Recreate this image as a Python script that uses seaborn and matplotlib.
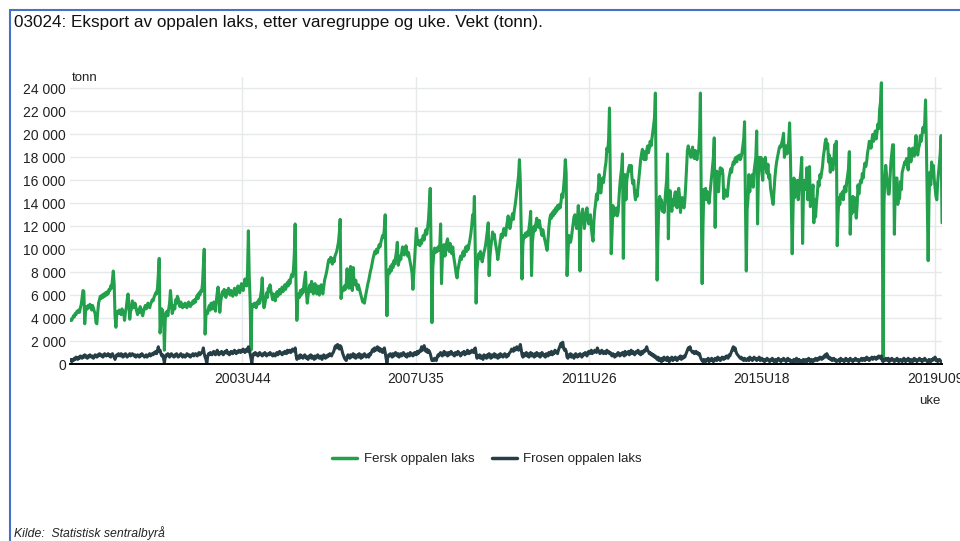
import matplotlib
matplotlib.use("Agg")
import matplotlib.pyplot as plt
from matplotlib.lines import Line2D
import seaborn as sns
import pandas as pd
import numpy as np

# ---------------- data (weekly export, fresh in 1000 t, frozen in 100 t) ----------------
years = [2000, 2001, 2002, 2003, 2004, 2005, 2006, 2007, 2008, 2009,
         2010, 2011, 2012, 2013, 2014, 2015, 2016, 2017, 2018, 2019]
weeks_per_year = [52, 52, 52, 52, 53, 52, 52, 52, 52, 53,
                  52, 52, 52, 52, 52, 53, 52, 52, 52, 17]

fresh_2000 = [3.8,3.9,3.8,4.0,4.2,4.1,4.4,4.3,4.6,4.5,4.7,4.5,4.9,5.2,5.8,6.4,6.3,3.5,4.6,5.0,4.8,5.1,4.9,5.2,5.0,4.7,5.1,4.9,4.6,4.4,3.6,3.5,4.5,5.3,5.6,5.9,5.7,6.0,5.8,6.1,5.9,6.2,6.0,6.3,6.1,6.5,6.4,6.8,6.6,7.4,8.1,7.0]
fresh_2001 = [4.2,3.2,4.3,4.6,4.4,4.7,4.5,4.3,4.8,4.6,4.4,3.8,4.5,4.9,5.6,6.1,5.2,3.9,4.6,4.8,5.5,5.2,4.9,5.3,5.0,4.6,4.3,4.7,4.5,5.0,4.8,4.4,4.2,4.6,4.9,5.1,4.8,5.0,5.3,5.1,4.9,5.2,5.4,5.6,5.5,5.8,6.0,6.2,6.1,6.6,7.8,9.2]
fresh_2002 = [2.7,3.6,4.8,4.6,4.3,1.2,3.9,4.4,4.6,4.2,4.8,5.3,6.4,5.5,4.4,4.7,5.1,4.8,5.6,5.3,5.9,5.7,5.2,5.0,5.4,5.1,4.9,5.2,5.0,5.3,5.1,4.9,5.2,5.4,5.1,5.0,5.3,5.2,5.5,5.3,5.6,5.4,5.8,6.0,5.7,6.2,6.0,6.4,6.3,7.0,8.6,10.0]
fresh_2003 = [2.6,4.2,4.6,4.4,4.9,5.1,4.7,5.3,5.0,4.8,5.4,5.2,4.6,5.5,6.2,6.7,5.8,4.5,5.4,5.9,6.3,6.0,6.5,6.2,5.8,6.4,6.1,6.6,6.3,6.0,6.4,6.2,5.9,6.3,6.6,6.2,6.0,6.4,6.8,6.5,6.2,6.6,7.0,6.7,6.4,6.9,7.4,7.1,6.8,8.0,11.6,7.6]
fresh_2004 = [5.6,1.2,4.8,5.2,5.0,5.3,5.1,4.9,5.4,5.2,5.6,5.3,5.9,6.4,7.5,5.6,4.9,5.2,5.7,6.2,5.8,6.6,6.3,6.9,6.4,6.0,5.6,6.1,5.8,5.5,6.0,6.3,5.9,6.2,6.5,6.1,6.4,6.7,6.3,6.6,6.9,6.5,6.8,7.1,6.8,7.3,7.0,7.5,7.8,7.6,8.2,9.5,12.2]
fresh_2005 = [7.0,3.8,5.6,6.1,5.8,6.4,6.0,6.5,6.2,6.8,7.4,8.0,6.2,5.3,6.0,6.5,6.9,6.3,7.2,6.7,6.1,6.6,7.0,6.5,6.1,6.8,6.4,6.0,6.6,6.9,6.4,6.1,6.7,7.3,7.6,7.9,8.3,8.8,9.1,8.9,9.3,9.0,8.7,9.2,8.9,9.4,9.6,9.8,10.2,10.6,11.4,12.6]
fresh_2006 = [5.7,6.3,6.6,6.4,6.8,6.5,7.0,8.3,6.9,6.6,7.4,8.5,6.8,6.4,8.4,7.2,6.9,7.3,6.8,6.5,6.9,6.6,6.3,6.0,5.7,5.4,5.6,5.3,5.8,6.2,6.6,7.0,7.3,7.7,8.1,8.4,8.8,9.2,9.5,9.8,9.6,10.0,9.7,10.1,10.4,10.2,10.6,10.9,11.2,11.0,11.8,13.0]
fresh_2007 = [8.0,4.2,7.6,8.2,7.9,8.5,8.1,8.7,8.4,9.0,8.7,9.3,9.8,10.6,8.6,8.9,9.4,9.1,9.7,10.2,9.9,9.5,9.9,10.3,9.8,9.4,9.7,9.2,8.8,8.4,7.9,6.5,7.8,9.2,10.4,11.8,10.9,10.4,10.7,10.3,10.8,10.5,10.9,11.2,10.8,11.4,11.7,11.3,11.9,12.6,13.9,15.3]
fresh_2008 = [10.0,3.6,8.4,9.5,10.1,9.7,10.0,9.8,10.2,9.9,10.3,12.2,7.0,9.2,9.8,10.4,9.4,9.9,10.6,10.9,10.3,9.8,10.5,10.1,9.6,10.2,9.4,8.9,8.4,7.8,7.5,8.2,8.6,9.0,9.4,9.1,9.5,9.8,9.4,9.9,10.2,9.8,10.3,10.0,10.5,10.9,11.4,12.1,13.0,12.4,14.6,10.2]
fresh_2009 = [5.3,8.2,9.0,9.6,9.2,9.8,9.4,8.9,9.3,9.7,10.0,10.4,11.0,11.6,12.3,7.7,9.4,10.2,10.8,11.5,11.0,11.3,10.7,10.2,9.8,9.1,9.6,10.2,10.8,11.3,11.0,11.4,11.8,11.5,11.2,11.9,12.4,12.9,12.3,11.8,12.2,12.7,13.1,12.6,13.3,13.8,14.4,15.1,15.7,16.4,17.8,16.0,12.0]
fresh_2010 = [7.4,10.4,11.2,11.0,11.4,11.1,11.5,11.2,11.8,12.4,13.3,7.7,10.6,11.4,12.0,11.6,12.2,12.7,12.3,11.9,12.5,12.0,11.6,11.2,11.7,11.3,10.9,10.6,10.2,9.9,10.8,11.9,12.6,13.0,12.7,13.2,12.9,13.4,13.1,13.6,13.3,13.8,13.5,13.9,13.6,14.1,14.8,14.5,15.4,16.3,17.8,16.6]
fresh_2011 = [7.7,9.4,11.2,10.8,10.6,11.0,11.6,12.2,12.8,13.0,12.4,11.8,12.6,13.8,12.2,8.1,12.4,13.1,13.5,12.6,11.8,12.5,13.2,13.6,12.8,12.2,12.7,13.0,11.9,11.2,10.7,12.4,13.4,14.0,14.8,14.3,15.2,16.5,15.4,14.9,15.6,16.2,15.8,16.4,17.1,17.6,18.8,18.5,19.6,22.3,16.0,9.6]
fresh_2012 = [11.5,13.8,12.9,13.5,13.0,13.6,12.9,13.2,14.5,15.6,16.4,17.0,18.3,9.2,15.4,16.5,14.3,16.0,16.5,17.0,17.3,16.8,17.3,16.2,15.7,16.0,14.9,14.3,15.1,14.6,15.5,16.2,17.0,17.8,18.3,18.7,18.1,17.8,18.5,17.8,18.6,19.0,18.4,18.8,19.4,19.0,19.6,20.2,20.8,21.5,23.6,14.0]
fresh_2013 = [7.3,11.0,14.0,14.6,13.6,14.3,13.3,14.0,13.2,14.1,15.2,16.0,18.3,10.9,14.6,15.1,14.0,13.3,14.3,13.8,14.6,15.0,14.4,13.6,14.9,15.3,14.5,13.2,14.1,14.5,14.0,13.6,14.2,15.5,17.1,18.6,19.0,18.4,18.5,18.0,18.6,18.9,18.1,17.9,18.6,18.2,17.8,18.5,18.6,20.0,23.6,14.0]
fresh_2014 = [7.0,12.0,15.2,15.0,15.3,14.3,15.0,14.6,14.0,14.8,15.6,16.4,17.2,18.0,19.7,11.9,15.6,16.8,16.2,15.0,16.4,17.1,16.6,17.0,16.5,14.4,15.2,14.8,15.0,14.6,15.4,16.2,16.6,17.0,16.7,17.3,17.6,17.4,17.9,18.0,17.6,18.1,17.9,18.2,17.8,18.0,18.4,19.0,19.6,21.1,14.0,8.1]
fresh_2015 = [13.5,14.4,16.5,15.0,16.2,15.9,16.5,15.4,16.8,17.4,18.0,20.3,12.2,16.5,18.0,17.0,18.0,16.6,16.0,17.8,17.2,18.0,17.0,16.6,17.4,16.2,16.5,15.3,14.8,14.3,13.9,15.0,16.2,17.0,17.6,18.0,18.4,18.8,19.0,18.9,19.3,19.6,20.1,18.0,18.6,19.0,18.3,18.8,19.5,21.0,18.0,14.0,9.6]
fresh_2016 = [13.5,16.2,14.5,15.8,14.9,16.0,14.3,15.3,16.0,16.8,18.0,10.5,14.8,16.0,15.2,15.6,17.1,14.3,16.2,17.2,13.7,15.4,14.6,15.6,12.3,14.3,12.8,14.0,14.8,15.9,15.5,16.5,16.2,16.7,17.2,18.1,18.6,19.3,19.6,18.8,19.2,17.6,18.2,16.7,17.9,17.3,16.9,17.6,19.1,18.8,19.4,10.3]
fresh_2017 = [13.0,14.5,13.9,14.8,14.5,15.0,14.3,15.2,15.5,15.0,15.9,16.4,17.0,18.5,11.3,13.8,13.1,14.6,13.3,14.5,13.6,12.7,13.8,15.6,14.8,15.5,16.0,15.8,16.6,16.2,17.0,17.5,17.2,17.6,18.4,18.8,19.4,19.3,18.8,19.5,20.0,19.4,19.9,20.3,19.6,20.2,20.9,20.5,22.2,22.8,24.5,12.5]
fresh_2018 = [0.6,14.0,16.2,17.3,16.5,15.6,14.8,14.8,16.2,17.6,18.4,19.1,19.1,11.3,15.3,16.2,16.2,13.9,14.8,14.4,15.9,15.2,16.7,17.0,17.3,17.6,17.4,17.9,17.3,16.9,18.8,18.3,17.6,18.0,18.8,18.3,18.1,19.0,19.9,18.5,18.2,18.8,19.1,19.9,19.4,20.0,20.6,20.2,21.0,23.0,19.0,14.0]
fresh_2019 = [9.0,14.5,16.7,15.6,17.6,16.4,17.3,16.1,15.3,14.6,14.3,15.8,16.6,17.5,18.4,19.9,12.3]

frozen_2000 = [3,4,2,4,3,5,4,6,5,4,6,5,7,6,5,7,6,8,6,7,5,7,6,8,7,6,7,5,6,8,7,6,8,7,9,8,7,8,6,7,9,8,7,8,9,7,8,6,8,9,7,6]
frozen_2001 = [4,7,8,7,9,8,7,9,8,6,8,7,9,8,6,7,8,9,7,8,9,8,7,8,6,7,8,7,6,8,7,9,8,7,6,7,8,6,7,8,9,7,8,9,8,10,9,11,9,12,15,11]
frozen_2002 = [12,9,7,8,5,1,6,8,7,9,8,6,7,9,8,7,6,8,7,9,8,6,7,8,9,7,6,8,7,6,7,9,8,7,8,6,7,8,9,7,8,9,8,7,9,10,8,9,10,11,14,9]
frozen_2003 = [6,4,0,7,9,8,10,9,8,10,11,9,8,10,12,9,8,10,9,11,10,8,9,11,10,12,9,10,8,9,11,10,9,11,12,10,9,11,10,12,11,10,12,11,13,12,10,12,13,11,15,12]
frozen_2004 = [9,5,1,7,9,8,10,8,9,7,8,10,9,8,7,9,8,10,9,7,8,9,8,10,9,8,7,9,8,7,9,10,8,9,11,10,9,8,10,9,11,10,9,12,10,11,12,10,11,13,12,11,14]
frozen_2005 = [8,4,6,7,5,8,6,7,5,6,8,7,5,6,4,7,6,8,5,7,6,4,7,5,6,8,7,5,6,7,4,6,8,7,5,7,6,8,7,9,8,7,9,10,12,15,16,14,17,15,13,16]
frozen_2006 = [15,12,9,7,5,4,3,6,8,7,5,8,6,7,9,6,8,5,7,8,6,9,7,5,8,6,7,9,8,6,7,8,6,9,8,10,12,13,11,14,12,13,15,12,14,11,13,12,10,12,14,10]
frozen_2007 = [5,1,6,8,7,9,8,6,9,7,8,10,8,7,9,6,8,9,7,8,10,9,7,8,6,9,8,7,10,8,9,7,8,10,9,8,11,9,10,12,11,15,12,13,16,12,11,13,10,12,11,9]
frozen_2008 = [6,3,4,3,5,4,3,6,8,7,9,10,8,7,9,11,8,10,9,7,10,8,9,11,10,8,9,7,10,9,8,11,10,9,7,8,10,9,11,8,10,9,12,10,9,11,10,12,11,10,13,14]
frozen_2009 = [9,5,7,6,8,5,7,6,4,8,6,7,5,8,6,9,7,5,8,6,7,9,6,8,7,5,8,6,9,7,8,6,7,9,8,6,8,7,9,10,11,13,12,11,14,12,13,15,13,12,14,17,13]
frozen_2010 = [8,6,9,7,8,10,7,9,6,8,10,7,9,8,6,9,7,10,8,7,9,6,8,10,9,7,8,6,9,8,7,10,8,9,11,8,10,9,12,10,11,9,12,14,16,18,15,19,14,12,13,11]
frozen_2011 = [6,5,8,7,9,6,8,7,5,8,9,7,6,8,7,9,8,6,7,9,8,10,9,7,10,11,9,10,12,9,11,10,12,11,10,14,12,11,9,10,12,11,9,10,11,9,12,10,11,9,10,8]
frozen_2012 = [7,9,8,6,8,7,9,10,8,7,9,8,10,9,7,11,8,10,9,11,8,10,12,9,11,10,8,9,11,10,12,9,10,8,11,9,10,12,11,13,15,12,11,9,10,8,9,7,8,6,7,5]
frozen_2013 = [4,6,3,5,4,2,5,3,6,4,5,3,6,4,2,5,4,6,3,5,4,6,5,3,4,6,5,7,4,6,5,7,6,8,10,12,14,13,15,12,11,10,11,9,10,11,9,10,8,9,6,4]
frozen_2014 = [3,2,4,3,2,4,3,5,2,4,3,5,4,2,3,5,4,3,6,4,5,3,4,6,5,4,6,5,7,6,5,8,7,9,11,13,15,12,14,11,9,8,7,6,5,6,4,5,3,5,4,3]
frozen_2015 = [4,5,3,6,4,5,3,4,6,5,4,3,5,4,6,3,4,5,3,4,2,4,3,5,4,3,2,4,3,5,4,2,3,4,2,3,5,4,3,2,4,3,5,4,3,2,4,5,3,4,2,3,1]
frozen_2016 = [3,4,2,3,5,2,3,4,2,3,1,3,4,2,3,4,2,3,5,3,2,4,3,2,4,3,5,4,3,5,4,6,5,4,6,5,7,8,6,9,7,5,6,4,5,3,4,5,3,4,2,3]
frozen_2017 = [3,4,2,5,3,4,3,2,4,5,3,4,2,3,5,4,3,2,4,3,5,4,3,4,2,3,4,5,3,4,5,3,4,6,4,5,3,4,5,6,4,5,6,5,4,6,5,7,6,5,7,3]
frozen_2018 = [2,4,3,5,4,3,5,2,4,3,5,4,3,2,4,3,5,4,2,3,4,3,2,4,5,3,2,4,3,5,3,2,4,3,2,4,5,3,4,2,3,4,5,3,4,2,4,3,5,4,3,2]
frozen_2019 = [2,4,3,2,4,3,5,4,6,3,4,2,3,4,3,2,2]

series_names = ["Fersk oppalen laks", "Frosen oppalen laks"]
tick_labels = ["2003U44", "2007U35", "2011U26", "2015U18", "2019U09"]
y_ticks = list(range(0, 24001, 2000))

fresh_parts = [fresh_2000, fresh_2001, fresh_2002, fresh_2003, fresh_2004, fresh_2005, fresh_2006,
               fresh_2007, fresh_2008, fresh_2009, fresh_2010, fresh_2011, fresh_2012, fresh_2013,
               fresh_2014, fresh_2015, fresh_2016, fresh_2017, fresh_2018, fresh_2019]
frozen_parts = [frozen_2000, frozen_2001, frozen_2002, frozen_2003, frozen_2004, frozen_2005, frozen_2006,
                frozen_2007, frozen_2008, frozen_2009, frozen_2010, frozen_2011, frozen_2012, frozen_2013,
                frozen_2014, frozen_2015, frozen_2016, frozen_2017, frozen_2018, frozen_2019]

week_labels = [f"{y}U{w:02d}" for y, n in zip(years, weeks_per_year) for w in range(1, n + 1)]
fresh = [v * 1000 for part in fresh_parts for v in part]
frozen = [v * 100 for part in frozen_parts for v in part]
n = min(len(week_labels), len(fresh), len(frozen))
week_labels, fresh, frozen = week_labels[:n], fresh[:n], frozen[:n]
pos = list(range(n))

df = pd.DataFrame({
    "pos": pos * 2,
    "uke": week_labels * 2,
    "tonn": fresh + frozen,
    "serie": [series_names[0]] * n + [series_names[1]] * n,
})

# ---------------- plotting ----------------
sns.set_style("white")
plt.rcParams["font.family"] = ["Liberation Sans", "DejaVu Sans"]

GREEN = "#22a04b"
DARK = "#263e45"
TXT = "#222222"

fig = plt.figure(figsize=(9.6, 5.41), dpi=100)
ax = fig.add_axes([70 / 960, 1 - 364 / 541, (942 - 70) / 960, (364 - 77) / 541])

sns.lineplot(data=df, x="pos", y="tonn", hue="serie", hue_order=series_names,
             palette=[GREEN, DARK], linewidth=2.2, ax=ax, legend=False, estimator=None)

ax.set_xlim(0, n - 1)
ax.set_ylim(0, 25000)
ax.set_yticks(y_ticks)
ax.set_yticklabels([f"{v:,}".replace(",", " ") for v in y_ticks], fontsize=10, color=TXT)
xt = [week_labels.index(t) for t in tick_labels]
ax.set_xticks(xt)
ax.set_xticklabels(tick_labels, fontsize=10, color=TXT)
ax.tick_params(axis="y", length=0, pad=3)
ax.tick_params(axis="x", length=0, pad=6)
ax.grid(True, color="#e6e9e9", linewidth=1.0)
ax.set_axisbelow(True)
for s in ["top", "right", "left"]:
    ax.spines[s].set_visible(False)
ax.spines["bottom"].set_color("#000000")
ax.spines["bottom"].set_linewidth(1.4)
ax.set_xlabel("")
ax.set_ylabel("")

fig.text(72 / 960, 1 - 78 / 541, "tonn", fontsize=9.5, color=TXT, ha="left", va="center")
fig.text(930 / 960, 1 - 401 / 541, "uke", fontsize=9.5, color=TXT, ha="center", va="center")

handles = [Line2D([0], [0], color=GREEN, lw=2.5), Line2D([0], [0], color=DARK, lw=2.5)]
fig.legend(handles, series_names, loc="center", bbox_to_anchor=(487 / 960, 1 - 459 / 541),
           ncol=2, frameon=False, fontsize=9.5, handlelength=1.9, handletextpad=0.5,
           columnspacing=1.3, labelcolor=TXT)

fig.text(14 / 960, 1 - 22 / 541, "03024: Eksport av oppalen laks, etter varegruppe og uke. Vekt (tonn).",
         fontsize=12.3, color="#111111", ha="left", va="center")
fig.text(14 / 960, 1 - 533 / 541, "Kilde:  Statistisk sentralbyrå", fontsize=8.8, style="italic",
         color=TXT, ha="left", va="center")

# frame lines
fig.add_artist(Line2D([10 / 960, 1.0], [1 - 10 / 541, 1 - 10 / 541], color="#4472c4", lw=1.5,
                      transform=fig.transFigure))
fig.add_artist(Line2D([10 / 960, 10 / 960], [1 - 10 / 541, 0.0], color="#4472c4", lw=1.5,
                      transform=fig.transFigure))

fig.savefig("out.png", dpi=100)
